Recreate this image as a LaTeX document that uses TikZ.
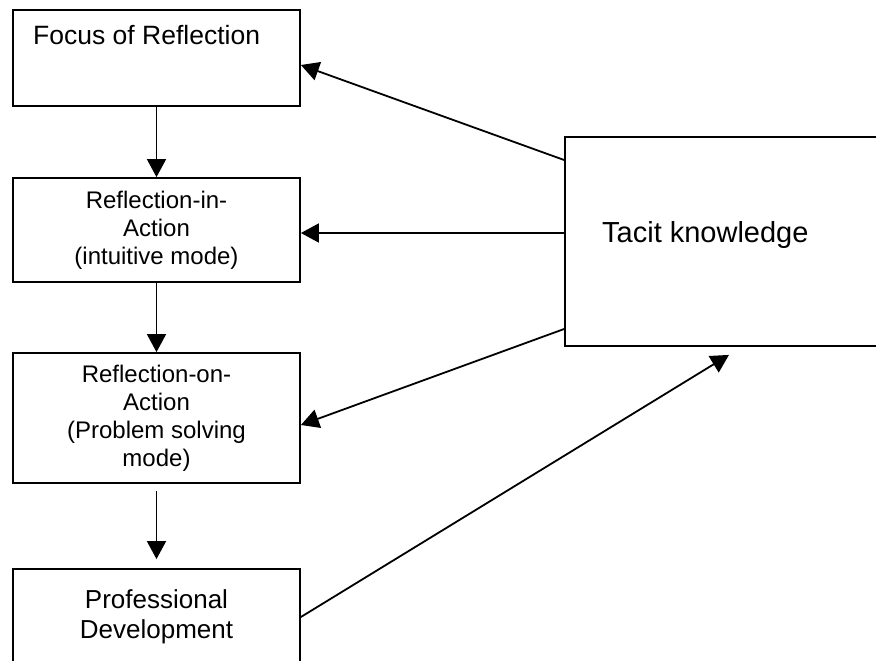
\documentclass[tikz,border=0pt]{standalone}
\usepackage{fontspec}
\setmainfont{Liberation Sans}
\usetikzlibrary{arrows.meta}
\tikzset{
	box/.style={
		draw,
		shape = rectangle,
		minimum width = 287pt,
		inner sep = 0pt,
		align = center,
		line width = 1.8pt
	},
	link/.style={
		->,
		line width = 1.8pt
	},
}
\tikzset{>={Triangle[length=18pt,width=19pt]}}

\begin{document}
\begin{tikzpicture}[x=1pt, y=-1pt, font=\fontsize{24}{28}\selectfont]
    \useasboundingbox (0,0) rectangle (876,661);
    \clip (0,0) rectangle (876,661);
    % left column
    \node[box, minimum height=96pt] (focus) at (156.5,58) {};
    \node[anchor=base west, inner sep=0pt, font=\fontsize{26.5}{30}\selectfont] (focustext) at (33,45) {Focus of Reflection};
    \node[box, minimum height=104pt] (rin) at (156.5,230) {Reflection-in-\\Action\\(intuitive mode)};
    \node[box, minimum height=130pt] (ron) at (156.5,418) {Reflection-on-\\Action\\(Problem solving\\mode)};
    \node[box, minimum height=96pt, font=\fontsize{26}{30}\selectfont] (prof) at (156.5,617) {Professional\\Development};
    % right box
    \node[box, minimum width=328pt, minimum height=209pt] (tacit) at (729,241.5) {};
    \node[anchor=base west, inner sep=0pt, font=\fontsize{29}{33}\selectfont] (tacittext) at (602,242) {Tacit knowledge};
    \draw[link] (focus) -- (rin);
    \draw[link] (rin) -- (ron);
    \draw[link, shorten <=7pt, shorten >=9pt] (ron) -- (prof);
    \draw[link] ([yshift=81.5pt]tacit.west) -- ([yshift=-7pt]focus.east);
    \draw[link] ([yshift=8.5pt]tacit.west) -- ([yshift=-3pt]rin.east);
    \draw[link] ([yshift=-87.5pt]tacit.west) -- ([yshift=-7pt]ron.east);
    \draw[link] (prof.east) -- ([yshift=-8pt]tacit.south);
\end{tikzpicture}
\end{document}
